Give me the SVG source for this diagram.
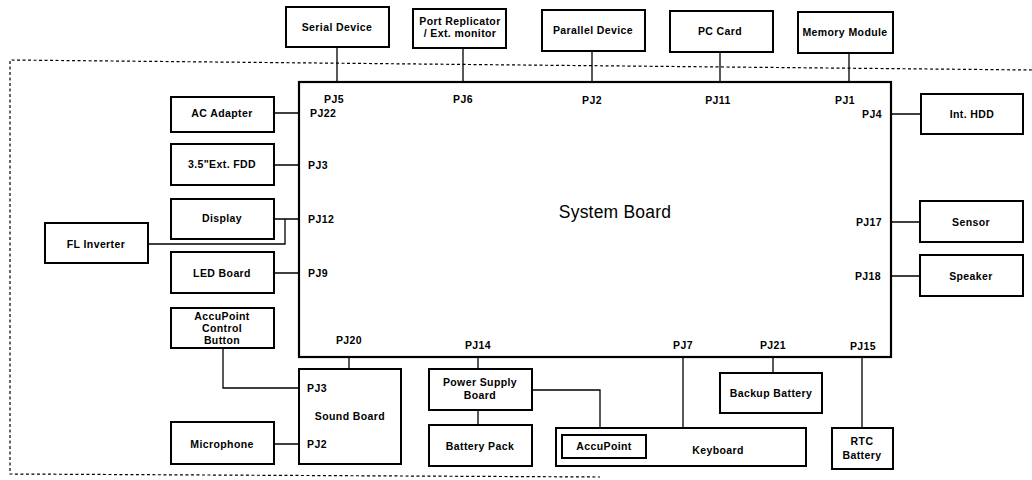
<svg xmlns="http://www.w3.org/2000/svg" width="1032" height="480" viewBox="0 0 1032 480">
<style>
.box{fill:#fff;stroke:#000;stroke-width:2}
.sb{fill:#fff;stroke:#000;stroke-width:2.2}
.ln{fill:none;stroke:#000;stroke-width:1.3}
.dash{fill:none;stroke:#000;stroke-width:1.2;stroke-dasharray:3 2.5}
text{font-family:"Liberation Sans",Arial,sans-serif;font-size:10.5px;font-weight:bold;letter-spacing:0.4px;fill:#000}
.c{text-anchor:middle}
.r{text-anchor:end}
.big{font-size:17.5px;font-weight:normal;letter-spacing:0.2px}
</style>
<rect width="1032" height="480" fill="#fff"/>
<path class="dash" d="M1032,70 L10,60 L10,474 L600,477"/>
<g id="connectors">
<path class="ln" d="M337,47V82 M463,48V82 M592,51V82 M720,52V82 M849,53V82"/>
<path class="ln" d="M274,113H299 M274,165H299 M274,219H299 M148,244H285V219 M274,273H299"/>
<path class="ln" d="M891,114H921 M891,222H920 M891,276H920"/>
<path class="ln" d="M223,348V388H299 M349,356V369 M274,444H299"/>
<path class="ln" d="M478,356V369 M478,410V425 M532,390H600V435 M683,356V428 M773,356V373 M862,358V428"/>
</g>
<g id="system-board">
<rect class="sb" x="299" y="82" width="592" height="275"/>
<text class="big c" x="615" y="218">System Board</text>
<text class="c" x="334" y="103">PJ5</text>
<text x="310" y="117">PJ22</text>
<text class="c" x="463" y="103">PJ6</text>
<text class="c" x="592" y="104">PJ2</text>
<text class="c" x="718" y="104">PJ11</text>
<text class="c" x="845" y="104">PJ1</text>
<text class="c" x="872" y="118">PJ4</text>
<text x="308" y="169">PJ3</text>
<text x="308" y="223">PJ12</text>
<text x="308" y="277">PJ9</text>
<text class="r" x="882" y="226">PJ17</text>
<text class="r" x="881" y="280">PJ18</text>
<text class="c" x="349" y="344">PJ20</text>
<text class="c" x="478" y="349">PJ14</text>
<text class="c" x="683" y="349">PJ7</text>
<text class="c" x="773" y="349">PJ21</text>
<text class="c" x="863" y="350">PJ15</text>
</g>
<g id="serial-device"><rect class="box" x="286" y="7" width="103" height="40"/><text class="c" x="337" y="31">Serial Device</text></g>
<g id="port-replicator"><rect class="box" x="413" y="9" width="93" height="39"/><text class="c" x="460" y="25">Port Replicator</text><text class="c" x="460" y="37">/ Ext. monitor</text></g>
<g id="parallel-device"><rect class="box" x="542" y="10" width="103" height="41"/><text class="c" x="593" y="34">Parallel Device</text></g>
<g id="pc-card"><rect class="box" x="670" y="11" width="103" height="41"/><text class="c" x="720" y="35">PC Card</text></g>
<g id="memory-module"><rect class="box" x="798" y="12" width="95" height="41"/><text class="c" x="845" y="36">Memory Module</text></g>
<g id="int-hdd"><rect class="box" x="921" y="94" width="102" height="40"/><text class="c" x="972" y="118">Int. HDD</text></g>
<g id="ac-adapter"><rect class="box" x="171" y="97" width="103" height="35"/><text class="c" x="222" y="117">AC Adapter</text></g>
<g id="ext-fdd"><rect class="box" x="171" y="144" width="103" height="41"/><text class="c" x="222" y="168">3.5"Ext. FDD</text></g>
<g id="display"><rect class="box" x="171" y="199" width="103" height="40"/><text class="c" x="222" y="222">Display</text></g>
<g id="fl-inverter"><rect class="box" x="45" y="223" width="103" height="40"/><text class="c" x="96" y="248">FL Inverter</text></g>
<g id="led-board"><rect class="box" x="171" y="252" width="103" height="41"/><text class="c" x="222" y="277">LED Board</text></g>
<g id="accupoint-button"><rect class="box" x="171" y="308" width="103" height="40"/><text class="c" x="222" y="320">AccuPoint</text><text class="c" x="222" y="332">Control</text><text class="c" x="222" y="344">Button</text></g>
<g id="sound-board"><rect class="box" x="299" y="369" width="102" height="95"/><text x="307" y="392">PJ3</text><text class="c" x="350" y="420">Sound Board</text><text x="307" y="448">PJ2</text></g>
<g id="microphone"><rect class="box" x="171" y="422" width="103" height="42"/><text class="c" x="222" y="448">Microphone</text></g>
<g id="power-supply"><rect class="box" x="429" y="369" width="103" height="41"/><text class="c" x="480" y="386">Power Supply</text><text class="c" x="480" y="399">Board</text></g>
<g id="battery-pack"><rect class="box" x="429" y="425" width="103" height="41"/><text class="c" x="480" y="450">Battery Pack</text></g>
<g id="keyboard"><rect class="box" x="556" y="428" width="250" height="38"/><text class="c" x="718" y="454">Keyboard</text></g>
<g id="accupoint"><rect class="box" x="562" y="435" width="84" height="23"/><text class="c" x="604" y="450">AccuPoint</text></g>
<g id="backup-battery"><rect class="box" x="720" y="373" width="102" height="40"/><text class="c" x="771" y="397">Backup Battery</text></g>
<g id="rtc-battery"><rect class="box" x="832" y="428" width="61" height="41"/><text class="c" x="862" y="445">RTC</text><text class="c" x="862" y="459">Battery</text></g>
<g id="sensor"><rect class="box" x="920" y="201" width="103" height="41"/><text class="c" x="971" y="226">Sensor</text></g>
<g id="speaker"><rect class="box" x="920" y="255" width="103" height="41"/><text class="c" x="971" y="280">Speaker</text></g>
</svg>
